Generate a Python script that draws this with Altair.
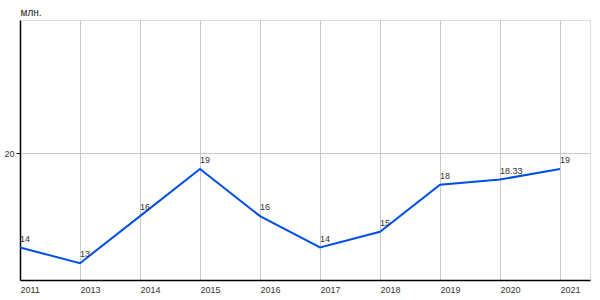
import altair as alt
import pandas as pd

years = ["2011", "2013", "2014", "2015", "2016", "2017", "2018", "2019", "2020", "2021"]
values = [14, 13, 16, 19, 16, 14, 15, 18, 18.33, 19]
labels = ["14", "13", "16", "19", "16", "14", "15", "18", "18.33", "19"]

df = pd.DataFrame({"idx": list(range(len(years))), "year": years, "value": values, "label": labels})

label_expr = "[" + ",".join(f"'{y}'" for y in years) + "][datum.value]"

x = alt.X("idx:Q", scale=alt.Scale(domain=[0, 9.5], nice=False, zero=False),
          axis=alt.Axis(values=list(range(10)), labelExpr=label_expr, title=None,
                        grid=True, gridColor="#c8c8c8", gridWidth=1,
                        domainColor="#000000", domainWidth=1.5, ticks=False,
                        labelFont="Liberation Sans", labelFontSize=9, labelColor="#333333",
                        labelAlign="left", labelPadding=5, labelFlush=False))
y = alt.Y("value:Q", scale=alt.Scale(domain=[11.93, 28.49], nice=False, zero=False),
          axis=alt.Axis(values=[20], title="млн.", titleAngle=0, titleAlign="left",
                        titleX=0, titleY=-5, titleBaseline="alphabetic",
                        titleFont="Liberation Sans", titleFontSize=10, titleFontWeight="normal",
                        titleColor="#222222",
                        grid=True, gridColor="#c8c8c8", gridWidth=1,
                        domainColor="#000000", domainWidth=1.5,
                        tickColor="#000000", tickSize=4,
                        labelFont="Liberation Sans", labelFontSize=9, labelColor="#333333",
                        labelPadding=2))

line = alt.Chart(df).mark_line(color="#0050e6", strokeWidth=2).encode(x=x, y=y)
text = alt.Chart(df).mark_text(align="left", baseline="alphabetic", dx=0, dy=-6,
                               font="Liberation Sans", fontSize=9, color="#333333").encode(
    x="idx:Q", y="value:Q", text="label:N")

chart = (line + text).properties(
    width=570, height=260,
    autosize=alt.AutoSizeParams(type="none"),
    padding={"left": 20, "top": 20, "right": 10, "bottom": 20},
).configure_view(fill="#ebebeb", stroke=None).configure(background="#ffffff")

chart.save("out.html", embed_options={"renderer": "svg", "actions": False})
